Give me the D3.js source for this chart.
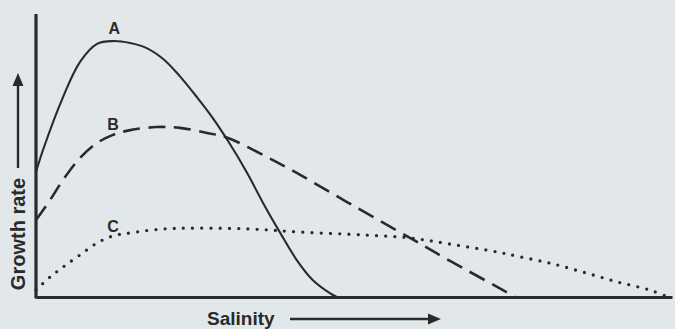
<!DOCTYPE html>
<html>
<head>
<meta charset="utf-8">
<script src="https://cdn.jsdelivr.net/npm/d3@7"></script>
<style>
  body { margin: 0; background: #e2e8ea; }
  svg { display: block; }
  text { font-family: "Liberation Sans", Arial, sans-serif; font-weight: bold; fill: #2a2a2a; }
</style>
</head>
<body>
<script>
var w = 675;
var h = 329;

// salinity (0-100) vs growth rate (0-100)
var salA = [0, 1.1, 4.25, 6.9, 9.6, 12.1, 14.8, 17.4, 20, 22.6, 25.3, 27.8, 30.2, 33.2, 35.7, 38.4, 41, 43.5, 46.2, 47.3];
var growA = [44.6, 52.5, 71.4, 83.9, 90.4, 91.4, 90.7, 88.9, 85, 78.9, 71.4, 63.9, 55.7, 44.3, 33.6, 22.9, 13.2, 6.1, 1.4, 0];

var salB = [0, 2.2, 4.25, 6.9, 9.6, 12.1, 14.8, 19, 22.6, 26.9, 30.2, 35.7, 41, 48.9, 58.8, 65.1, 72.5, 75.3];
var growB = [27.5, 34.6, 41.8, 49.6, 55, 57.9, 59.6, 60.7, 60.4, 58.6, 56.8, 50.7, 44.3, 33.9, 21.1, 12.9, 3.6, 0];

var salC = [0, 2.2, 4.25, 6.9, 9.6, 12.1, 14.8, 20, 25.3, 33.6, 41.5, 52, 58.8, 65.1, 72.5, 75.6, 80.8, 86, 91.4, 96.5, 99.4];
var growC = [2.5, 7.1, 10.7, 15, 19.3, 21.8, 22.9, 24.3, 24.6, 24.3, 23.2, 22.1, 21.1, 18.9, 16.1, 14.6, 12.1, 8.9, 5.4, 2.5, 0];

var curveNames = ["A", "B", "C"];
var labelAt = [12.3, 12.1, 12.1];   // salinity where each letter sits
var labelGrowth = [93.9, 59.6, 23.2];

var ink = "#2a2a2a";

var svg = d3.select("body")
      .append("svg")
      .attr("width", w)
      .attr("height", h);

var xScale = d3.scaleLinear()
    .domain([0, 100])
    .range([36, 672]);

var yScale = d3.scaleLinear()
    .domain([0, 100])
    .range([297, 17]);

function zipUp(xs, ys) {
  return xs.map(function(d, i) { return [d, ys[i]]; });
}

var series = [zipUp(salA, growA), zipUp(salB, growB), zipUp(salC, growC)];

var line = d3.line()
    .x(function(d) { return xScale(d[0]); })
    .y(function(d) { return yScale(d[1]); })
    .curve(d3.curveCatmullRom.alpha(0.5));

var styles = [
  { width: 2.1, dash: null, cap: "butt" },
  { width: 2.6, dash: "17,8.5", cap: "butt" },
  { width: 3.3, dash: "0,9.2", cap: "round" }
];

svg.selectAll("path.curve")
    .data(series)
    .enter()
    .append("path")
    .attr("class", "curve")
    .attr("d", line)
    .attr("fill", "none")
    .attr("stroke", ink)
    .attr("stroke-width", function(d, i) { return styles[i].width; })
    .attr("stroke-dasharray", function(d, i) { return styles[i].dash; })
    .attr("stroke-linecap", function(d, i) { return styles[i].cap; });

// axes, no ticks
var xAxis = d3.axisBottom(xScale).ticks(0).tickSize(0).tickSizeOuter(0);
var yAxis = d3.axisLeft(yScale).ticks(0).tickSize(0).tickSizeOuter(0);

svg.append("g")
    .attr("class", "x axis")
    .attr("transform", "translate(0," + yScale(0) + ")")
    .call(xAxis);

svg.append("g")
    .attr("class", "y axis")
    .attr("transform", "translate(" + xScale(0) + ",0)")
    .call(yAxis);

svg.select(".y.axis .domain").attr("d", "M0," + (yScale(0) + 1.5) + "V14");
svg.selectAll(".axis .domain")
    .attr("stroke", ink)
    .attr("stroke-width", 3.2);

// curve letters
svg.selectAll("text.lbl")
    .data(curveNames)
    .enter()
    .append("text")
    .attr("class", "lbl")
    .attr("x", function(d, i) { return xScale(labelAt[i]); })
    .attr("y", function(d, i) { return yScale(labelGrowth[i]); })
    .attr("text-anchor", "middle")
    .style("font-size", "16px")
    .text(function(d) { return d; });

// y title
svg.append("text")
    .attr("transform", "translate(25,234) rotate(-90)")
    .attr("text-anchor", "middle")
    .style("font-size", "20px")
    .text("Growth rate");

svg.append("line")
    .attr("x1", 18).attr("y1", 168)
    .attr("x2", 18).attr("y2", 84)
    .attr("stroke", ink)
    .attr("stroke-width", 2.4);

svg.append("path")
    .attr("d", "M18,73L23.5,86L12.5,86Z")
    .attr("fill", ink);

// x title
svg.append("text")
    .attr("x", 207)
    .attr("y", 325)
    .style("font-size", "19px")
    .text("Salinity");

svg.append("line")
    .attr("x1", 290).attr("y1", 319)
    .attr("x2", 430).attr("y2", 319)
    .attr("stroke", ink)
    .attr("stroke-width", 2.4);

svg.append("path")
    .attr("d", "M441,319L428,313.5L428,324.5Z")
    .attr("fill", ink);
</script>
</body>
</html>
